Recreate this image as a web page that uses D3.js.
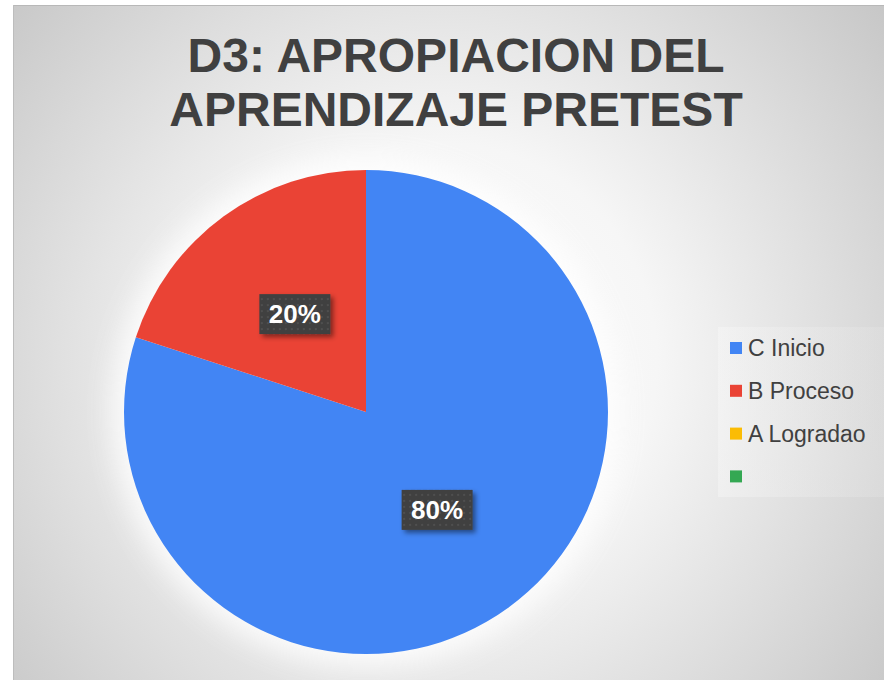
<!DOCTYPE html>
<html>
<head>
<meta charset="utf-8">
<script src="https://cdn.jsdelivr.net/npm/d3@7"></script>
<style>
  body { margin: 0; background: #fff; }
  svg { display: block; font-family: "Liberation Sans", Arial, sans-serif; }
</style>
</head>
<body>
<div id="chart"></div>
<script>
// data
const categories = ["C Inicio", "B Proceso", "A Logradao", ""];
const values = [80, 20, 0, 0];
const colors = ["#4285f4", "#ea4335", "#fbbc04", "#34a853"];
const titleLines = ["D3: APROPIACION DEL", "APRENDIZAJE PRETEST"];

const width = 884, height = 680;
const cx = 366, cy = 412, radius = 242;

const svg = d3.select("#chart").append("svg")
  .attr("width", width)
  .attr("height", height);

const defs = svg.append("defs");

// chart background gradient
const bg = defs.append("radialGradient")
  .attr("id", "bgGrad")
  .attr("gradientUnits", "userSpaceOnUse")
  .attr("cx", 440).attr("cy", 360).attr("r", 620);
bg.append("stop").attr("offset", "0%").attr("stop-color", "#ffffff");
bg.append("stop").attr("offset", "35%").attr("stop-color", "#f6f6f6");
bg.append("stop").attr("offset", "100%").attr("stop-color", "#c0c0c0");

const legGrad = defs.append("linearGradient")
  .attr("id", "legGrad")
  .attr("x1", 0).attr("x2", 1).attr("y1", 0).attr("y2", 0);
legGrad.append("stop").attr("offset", "0%").attr("stop-color", "#fbfbfb");
legGrad.append("stop").attr("offset", "100%").attr("stop-color", "#e4e4e4");

const glow = defs.append("filter").attr("id", "glow")
  .attr("x", "-30%").attr("y", "-30%").attr("width", "160%").attr("height", "160%");
glow.append("feGaussianBlur").attr("stdDeviation", 14);

const shadow = defs.append("filter").attr("id", "shadow")
  .attr("x", "-30%").attr("y", "-30%").attr("width", "160%").attr("height", "160%");
shadow.append("feDropShadow")
  .attr("dx", 3).attr("dy", 3).attr("stdDeviation", 2.5)
  .attr("flood-color", "#000").attr("flood-opacity", 0.45);

const dots = defs.append("pattern")
  .attr("id", "dots")
  .attr("width", 6).attr("height", 6)
  .attr("patternUnits", "userSpaceOnUse");
dots.append("rect").attr("width", 6).attr("height", 6).attr("fill", "#404040");
dots.append("circle").attr("cx", 3).attr("cy", 3).attr("r", 0.9).attr("fill", "#565656");

// chart area
svg.append("rect")
  .attr("x", 13).attr("y", 5)
  .attr("width", width - 13).attr("height", height - 5)
  .attr("fill", "url(#bgGrad)");
svg.append("line")
  .attr("x1", 13).attr("x2", width).attr("y1", 5.5).attr("y2", 5.5)
  .attr("stroke", "#b8b8b8");
svg.append("line")
  .attr("x1", 13.5).attr("x2", 13.5).attr("y1", 5).attr("y2", height)
  .attr("stroke", "#bdbdbd");

// title
svg.append("g").selectAll("text")
  .data(titleLines)
  .join("text")
  .attr("x", 456)
  .attr("y", (d, i) => 72 + i * 54)
  .attr("text-anchor", "middle")
  .attr("font-size", 48)
  .attr("font-weight", "bold")
  .attr("fill", "#404040")
  .text(d => d);

// soft halo behind pie
svg.append("circle")
  .attr("cx", cx).attr("cy", cy).attr("r", radius + 12)
  .attr("fill", "#ffffff")
  .attr("opacity", 0.85)
  .attr("filter", "url(#glow)");

const pie = d3.pie().sort(null).value(d => d.value);
const arcs = pie(categories.map((c, i) => ({ name: c, value: values[i], color: colors[i] })));
const arc = d3.arc().innerRadius(0).outerRadius(radius);

const g = svg.append("g").attr("transform", `translate(${cx},${cy})`);

g.selectAll("path")
  .data(arcs.filter(d => d.data.value > 0))
  .join("path")
  .attr("d", arc)
  .attr("fill", d => d.data.color);

const total = d3.sum(values);
const labels = g.selectAll(".lbl")
  .data(arcs.filter(d => d.data.value > 0))
  .join("g")
  .attr("class", "lbl")
  .attr("transform", d => `translate(${arc.centroid(d)})`);

labels.append("rect")
  .attr("x", -35.5).attr("y", -20)
  .attr("width", 71).attr("height", 40)
  .attr("fill", "url(#dots)")
  .attr("filter", "url(#shadow)");

labels.append("text")
  .attr("text-anchor", "middle")
  .attr("dy", 9)
  .attr("font-size", 26)
  .attr("font-weight", "bold")
  .attr("fill", "#ffffff")
  .text(d => Math.round(d.data.value / total * 100) + "%");

// legend
const legend = svg.append("g");
legend.append("rect")
  .attr("x", 718).attr("y", 327)
  .attr("width", width - 718).attr("height", 170)
  .attr("fill", "url(#legGrad)")
  .attr("opacity", 0.35);

const items = legend.selectAll(".item")
  .data(categories)
  .join("g")
  .attr("class", "item")
  .attr("transform", (d, i) => `translate(730,${348 + i * 42.8})`);

items.append("rect")
  .attr("x", 0).attr("y", -6)
  .attr("width", 12).attr("height", 12)
  .attr("fill", (d, i) => colors[i]);

items.append("text")
  .attr("x", 18).attr("y", 8)
  .attr("font-size", 23)
  .attr("fill", "#404040")
  .text(d => d);
</script>
</body>
</html>
